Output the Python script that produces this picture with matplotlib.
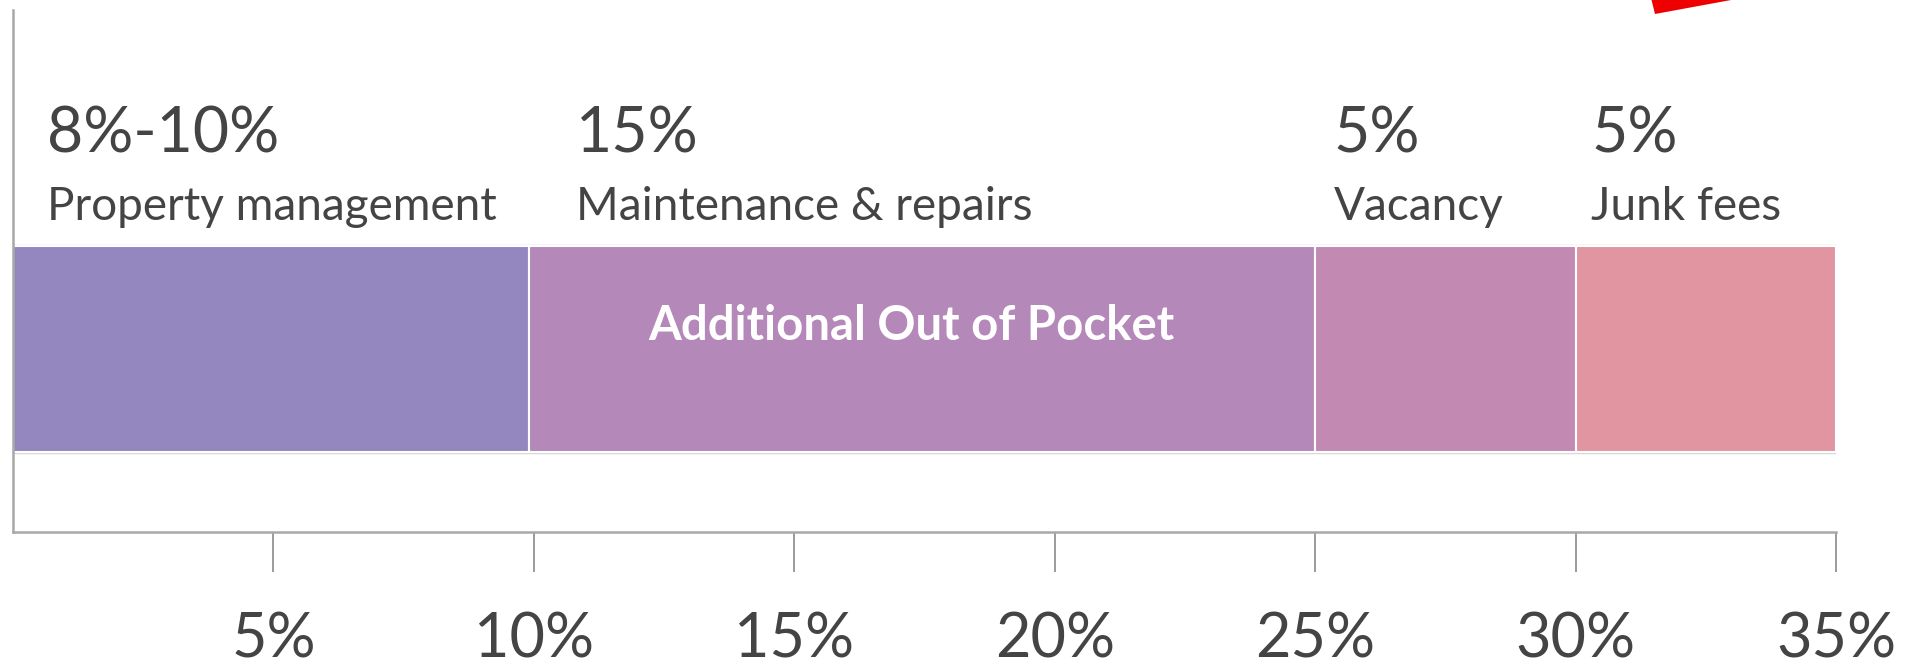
import matplotlib

matplotlib.use('Agg')
import matplotlib.pyplot as plt
from matplotlib.patches import Polygon
import numpy as np

plt.rcParams['font.family'] = ['Lato', 'DejaVu Sans']

# segments of the stacked bar (percent of rent)
categories = ['Property management', 'Maintenance & repairs', 'Vacancy', 'Junk fees']
pct_labels = ['8%-10%', '15%', '5%', '5%']
widths = [9.9, 15.1, 5, 5]
colors = ['#9487bf', '#b488b8', '#c289b3', '#e195a0']
label_offsets = [0.65, 0.9, 0.35, 0.3]

ticks = [5, 10, 15, 20, 25, 30, 35]
tick_labels = ['5%', '10%', '15%', '20%', '25%', '30%', '35%']

W, H = 1921, 668
fig = plt.figure(figsize=(W / 100, H / 100), dpi=100)
ax = fig.add_axes([13 / W, (H - 532) / H, (1836 - 13) / W, 522 / H])

starts = np.concatenate([[0], np.cumsum(widths)[:-1]])
bar_y, bar_h = 0.35, 0.395

ax.barh(bar_y, sum(widths), height=bar_h, left=0, color='none',
        edgecolor='#d8d8d8', linewidth=2.5, zorder=1)
ax.barh([bar_y] * len(widths), widths, height=bar_h, left=starts,
        color=colors, edgecolor='white', linewidth=1.5, zorder=2)

text_col = '#444444'
for s, off, pct, name in zip(starts, label_offsets, pct_labels, categories):
    ax.text(s + off, 0.727, pct, fontsize=45, color=text_col,
            va='baseline', ha='left')
    ax.text(s + off, 0.598, name, fontsize=33, color=text_col,
            va='baseline', ha='left')

ax.text(17.25, 0.395, 'Additional Out of Pocket', fontsize=34, color='white',
        fontweight='bold', ha='center', va='center', zorder=3)

ax.set_xlim(0, 35)
ax.set_ylim(0, 1)
ax.set_yticks([])
ax.set_xticks(ticks)
ax.set_xticklabels(tick_labels, fontsize=44, color=text_col)
ax.tick_params(axis='x', direction='out', length=29, width=1.2,
               color='#8a8a8a', pad=28)

for side in ['top', 'right']:
    ax.spines[side].set_visible(False)
for side in ['left', 'bottom']:
    ax.spines[side].set_color('#a8a8a8')
    ax.spines[side].set_linewidth(1.8)

# red fragment cut off at the top right corner
pts = [(1651, -2), (1655, 14), (1742, -2)]
fig.patches.append(Polygon([(x / W, 1 - y / H) for x, y in pts], closed=True,
                           transform=fig.transFigure, facecolor='#ee0000',
                           edgecolor='none'))

fig.savefig('out.png', dpi=100)
